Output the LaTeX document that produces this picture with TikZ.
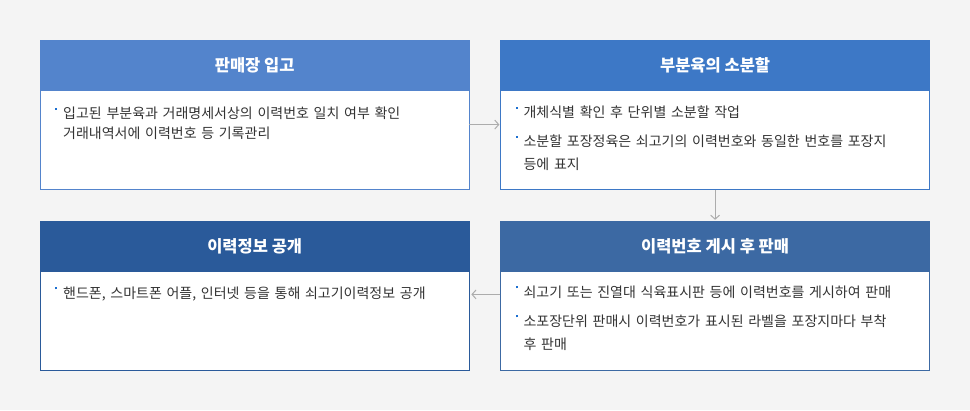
\documentclass[tikz,border=0pt]{standalone}
\usepackage{fontspec}
\setmainfont{Noto Sans CJK KR}
\usepackage{xcolor}
\usetikzlibrary{positioning,arrows.meta}
\definecolor{pagebg}{HTML}{F4F4F4}
\definecolor{hdA}{HTML}{5384CC}
\definecolor{hdB}{HTML}{3D78C6}
\definecolor{hdC}{HTML}{3C69A3}
\definecolor{hdD}{HTML}{2A5A9A}
\definecolor{txtgray}{HTML}{333333}
\definecolor{dotblue}{HTML}{1C6FD0}
\newcommand\itm[1]{\par\noindent
  \makebox[8pt][l]{\textcolor{dotblue}{\rule[9pt]{2pt}{2pt}}}\parbox[t]{380pt}{#1}}
\newcommand\itmgap{\par\vspace{6pt}}

\begin{document}
\begin{tikzpicture}[x=1pt,y=-1pt,
  head/.style={rectangle,fill=#1,draw=#1,minimum width=429pt,minimum height=50pt,
    inner sep=0pt,text=white,font=\fontsize{16.5}{19}\selectfont\bfseries},
  body/.style={rectangle,fill=white,draw=#1,minimum width=429pt,minimum height=99pt,inner sep=0pt},
  txt/.style={anchor=north west,inner sep=0pt,text width=400pt,align=left,
    text=txtgray,font=\fontsize{14}{23}\selectfont},
  conn/.style={draw=gray!65,line width=1pt,-{Straight Barb[length=4pt,width=9pt]}}]
% background and page size
\fill[pagebg] (0,0) rectangle (970,410);
\useasboundingbox (0,0) rectangle (970,410);
% boxes
\node[head=hdA,anchor=north west] (h1) at (40,40) {판매장 입고};
\node[body=hdA,below=0pt of h1] (b1) {};
\node[head=hdB,right=31pt of h1] (h2) {부분육의 소분할};
\node[body=hdB,below=0pt of h2] (b2) {};
\node[head=hdC,below=31pt of b2] (h3) {이력번호 게시 후 판매};
\node[body=hdC,below=0pt of h3] (b3) {};
\node[head=hdD,left=31pt of h3] (h4) {이력정보 공개};
\node[body=hdD,below=0pt of h4] (b4) {};
% texts
\node[txt,font=\fontsize{14}{20}\selectfont] (t1) at ([xshift=15pt,yshift=-8pt]b1.north west)
  {\itm{입고된 부분육과 거래명세서상의 이력번호 일치 여부 확인\\거래내역서에 이력번호 등 기록관리}};
\node[txt] (t2) at ([xshift=15pt,yshift=-4pt]b2.north west)
  {\itm{개체식별 확인 후 단위별 소분할 작업}\itmgap
   \itm{소분할 포장정육은 쇠고기의 이력번호와 동일한 번호를 포장지\\등에 표지}};
\node[txt] (t3) at ([xshift=15pt,yshift=-3pt]b3.north west)
  {\itm{쇠고기 또는 진열대 식육표시판 등에 이력번호를 게시하여 판매}\itmgap
   \itm{소포장단위 판매시 이력번호가 표시된 라벨을 포장지마다 부착\\후 판매}};
\node[txt] (t4) at ([xshift=15pt,yshift=-4pt]b4.north west)
  {\itm{핸드폰, 스마트폰 어플, 인터넷 등을 통해 쇠고기이력정보 공개}};
% connectors
\draw[conn] ([yshift=15.5pt]b1.east) -- ([yshift=15.5pt,xshift=-1pt]b2.west);
\draw[conn] (b2.south) -- ([yshift=1pt]h3.north);
\draw[conn] ([yshift=26.5pt]b3.west) -- ([yshift=26.5pt,xshift=2pt]b4.east);
\end{tikzpicture}
\end{document}
